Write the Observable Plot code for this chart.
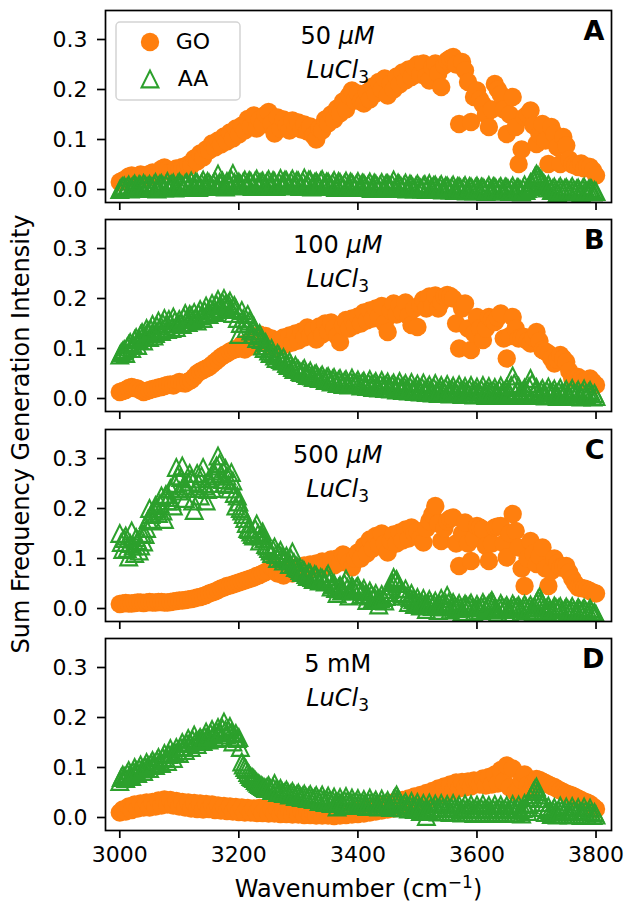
<!DOCTYPE html>
<html><head><meta charset="utf-8">
<script src="https://cdn.jsdelivr.net/npm/d3@7"></script>
<script src="https://cdn.jsdelivr.net/npm/@observablehq/plot@0.6"></script>
<style>
body{margin:0;background:#fff;}
#chart{position:relative;width:626px;height:909px;font-family:"DejaVu Sans",sans-serif;overflow:hidden;}
#chart svg{position:absolute;left:0;overflow:visible;}
#ylabel{position:absolute;left:21px;top:434px;transform:translate(-50%,-50%) rotate(-90deg);font-size:24px;line-height:1;white-space:nowrap;color:#000;}
</style></head><body>
<div id="chart"><div id="ylabel">Sum Frequency Generation Intensity</div></div>
<script>
const panelLetters = ["A", "B", "C", "D"];
const concLabels = ["50 μM", "100 μM", "500 μM", "5 mM"];
const saltLabel = "LuCl3";
const seriesNames = ["GO", "AA"];
const xTitle = "Wavenumber (cm−1)";
const xTicks = [3000, 3200, 3400, 3600, 3800];
const yTicks = [0.0, 0.1, 0.2, 0.3];

const wavenumber = [3000,3005,3010,3015,3020,3025,3030,3035,3040,3045,
3050,3055,3060,3065,3070,3075,3080,3085,3090,3095,
3100,3105,3110,3115,3120,3125,3130,3135,3140,3145,
3150,3155,3160,3165,3170,3175,3180,3185,3190,3195,
3200,3205,3210,3215,3220,3225,3230,3235,3240,3245,
3250,3255,3260,3265,3270,3275,3280,3285,3290,3295,
3300,3305,3310,3315,3320,3325,3330,3335,3340,3345,
3350,3355,3360,3365,3370,3375,3380,3385,3390,3395,
3400,3405,3410,3415,3420,3425,3430,3435,3440,3445,
3450,3455,3460,3465,3470,3475,3480,3485,3490,3495,
3500,3505,3510,3515,3520,3525,3530,3535,3540,3545,
3550,3555,3560,3565,3570,3575,3580,3585,3590,3595,
3600,3605,3610,3615,3620,3625,3630,3635,3640,3645,
3650,3655,3660,3665,3670,3675,3680,3685,3690,3695,
3700,3705,3710,3715,3720,3725,3730,3735,3740,3745,
3750,3755,3760,3765,3770,3775,3780,3785,3790,3795,
3800];
// AA was also recorded between the main grid points
const wavenumberMid = [3002.5,3007.5,3012.5,3017.5,3022.5,3027.5,3032.5,3037.5,3042.5,3047.5,
3052.5,3057.5,3062.5,3067.5,3072.5,3077.5,3082.5,3087.5,3092.5,3097.5,
3102.5,3107.5,3112.5,3117.5,3122.5,3127.5,3132.5,3137.5,3142.5,3147.5,
3152.5,3157.5,3162.5,3167.5,3172.5,3177.5,3182.5,3187.5,3192.5,3197.5,
3202.5,3207.5,3212.5,3217.5,3222.5,3227.5,3232.5,3237.5,3242.5,3247.5,
3252.5,3257.5,3262.5,3267.5,3272.5,3277.5,3282.5,3287.5,3292.5,3297.5,
3302.5,3307.5,3312.5,3317.5,3322.5,3327.5,3332.5,3337.5,3342.5,3347.5,
3352.5,3357.5,3362.5,3367.5,3372.5,3377.5,3382.5,3387.5,3392.5,3397.5,
3402.5,3407.5,3412.5,3417.5,3422.5,3427.5,3432.5,3437.5,3442.5,3447.5,
3452.5,3457.5,3462.5,3467.5,3472.5,3477.5,3482.5,3487.5,3492.5,3497.5,
3502.5,3507.5,3512.5,3517.5,3522.5,3527.5,3532.5,3537.5,3542.5,3547.5,
3552.5,3557.5,3562.5,3567.5,3572.5,3577.5,3582.5,3587.5,3592.5,3597.5,
3602.5,3607.5,3612.5,3617.5,3622.5,3627.5,3632.5,3637.5,3642.5,3647.5,
3652.5,3657.5,3662.5,3667.5,3672.5,3677.5,3682.5,3687.5,3692.5,3697.5,
3702.5,3707.5,3712.5,3717.5,3722.5,3727.5,3732.5,3737.5,3742.5,3747.5,
3752.5,3757.5,3762.5,3767.5,3772.5,3777.5,3782.5,3787.5,3792.5,3797.5];

const goA = [0.015,0.018,0.021,0.026,0.028,0.023,0.025,0.030,0.028,0.024,
0.031,0.034,0.026,0.030,0.041,0.044,0.040,0.035,0.036,0.042,
0.039,0.045,0.040,0.050,0.048,0.062,0.056,0.072,0.064,0.080,
0.078,0.092,0.084,0.098,0.090,0.106,0.096,0.114,0.102,0.122,
0.110,0.128,0.118,0.141,0.126,0.148,0.122,0.140,0.130,0.150,
0.155,0.132,0.112,0.144,0.122,0.140,0.128,0.118,0.138,0.124,
0.134,0.120,0.130,0.116,0.126,0.108,0.100,0.122,0.118,0.140,
0.132,0.150,0.140,0.162,0.152,0.176,0.160,0.188,0.198,0.178,
0.192,0.176,0.172,0.194,0.180,0.206,0.192,0.215,0.200,0.222,
0.188,0.212,0.200,0.226,0.210,0.234,0.218,0.240,0.225,0.244,
0.250,0.230,0.252,0.226,0.218,0.245,0.252,0.232,0.205,0.248,
0.258,0.262,0.265,0.250,0.131,0.255,0.238,0.215,0.135,0.185,
0.198,0.180,0.170,0.150,0.125,0.160,0.211,0.200,0.190,0.160,
0.111,0.150,0.185,0.125,0.051,0.080,0.145,0.150,0.158,0.128,
0.091,0.110,0.131,0.098,0.051,0.125,0.111,0.085,0.051,0.105,
0.088,0.060,0.050,0.048,0.045,0.052,0.042,0.046,0.045,0.038,
0.028];
const goB = [0.013,0.015,0.017,0.021,0.023,0.021,0.020,0.016,0.013,0.015,
0.017,0.019,0.020,0.022,0.023,0.025,0.027,0.028,0.026,0.030,
0.033,0.031,0.030,0.034,0.037,0.043,0.050,0.054,0.057,0.060,
0.063,0.068,0.073,0.078,0.083,0.087,0.090,0.094,0.097,0.099,
0.100,0.108,0.098,0.112,0.104,0.118,0.110,0.128,0.116,0.125,
0.108,0.120,0.100,0.114,0.104,0.122,0.108,0.126,0.112,0.130,
0.116,0.134,0.122,0.142,0.126,0.138,0.118,0.144,0.128,0.150,
0.134,0.152,0.140,0.125,0.113,0.146,0.157,0.140,0.160,0.146,
0.164,0.150,0.172,0.156,0.176,0.160,0.180,0.164,0.185,0.150,
0.133,0.176,0.190,0.168,0.186,0.172,0.192,0.165,0.147,0.180,
0.143,0.188,0.198,0.180,0.204,0.186,0.206,0.180,0.193,0.204,
0.207,0.205,0.200,0.150,0.100,0.180,0.190,0.140,0.097,0.130,
0.163,0.140,0.117,0.140,0.163,0.158,0.153,0.162,0.170,0.120,
0.080,0.125,0.163,0.140,0.120,0.122,0.123,0.115,0.110,0.122,
0.133,0.115,0.097,0.094,0.090,0.080,0.070,0.078,0.087,0.080,
0.073,0.055,0.040,0.042,0.043,0.038,0.035,0.037,0.040,0.033,
0.027];
const goC = [0.009,0.010,0.011,0.010,0.010,0.011,0.012,0.012,0.011,0.012,
0.013,0.012,0.012,0.013,0.013,0.012,0.012,0.013,0.014,0.015,
0.016,0.016,0.017,0.018,0.019,0.020,0.022,0.023,0.025,0.027,
0.030,0.032,0.034,0.037,0.040,0.042,0.045,0.046,0.048,0.050,
0.052,0.054,0.056,0.058,0.060,0.062,0.065,0.067,0.070,0.073,
0.076,0.082,0.079,0.070,0.074,0.066,0.072,0.078,0.070,0.082,
0.082,0.076,0.086,0.078,0.088,0.080,0.090,0.082,0.094,0.085,
0.090,0.098,0.086,0.100,0.092,0.108,0.104,0.092,0.082,0.100,
0.112,0.100,0.125,0.110,0.138,0.120,0.145,0.128,0.150,0.130,
0.112,0.135,0.148,0.130,0.152,0.136,0.158,0.140,0.162,0.150,
0.155,0.140,0.132,0.160,0.175,0.188,0.205,0.170,0.135,0.160,
0.175,0.180,0.182,0.130,0.085,0.150,0.172,0.130,0.095,0.140,
0.165,0.162,0.158,0.125,0.095,0.130,0.162,0.164,0.165,0.130,
0.102,0.150,0.189,0.155,0.122,0.080,0.045,0.100,0.135,0.110,
0.089,0.105,0.122,0.080,0.045,0.075,0.100,0.090,0.082,0.084,
0.085,0.072,0.060,0.050,0.042,0.041,0.040,0.038,0.035,0.032,
0.030];
const goD = [0.010,0.016,0.012,0.022,0.015,0.026,0.018,0.028,0.020,0.030,
0.020,0.031,0.022,0.034,0.024,0.036,0.026,0.035,0.024,0.033,
0.022,0.031,0.020,0.030,0.018,0.029,0.017,0.028,0.016,0.027,
0.017,0.026,0.015,0.024,0.014,0.023,0.013,0.022,0.012,0.021,
0.011,0.020,0.010,0.019,0.010,0.018,0.009,0.019,0.009,0.017,
0.008,0.017,0.008,0.016,0.007,0.015,0.007,0.014,0.006,0.014,
0.006,0.013,0.005,0.012,0.005,0.011,0.004,0.011,0.004,0.010,
0.004,0.010,0.003,0.010,0.004,0.011,0.005,0.012,0.006,0.014,
0.007,0.016,0.008,0.018,0.010,0.020,0.012,0.023,0.014,0.026,
0.016,0.029,0.018,0.032,0.021,0.035,0.024,0.038,0.027,0.042,
0.030,0.045,0.034,0.049,0.038,0.053,0.042,0.058,0.046,0.062,
0.050,0.066,0.054,0.070,0.058,0.071,0.060,0.072,0.062,0.074,
0.072,0.066,0.078,0.064,0.081,0.066,0.086,0.068,0.095,0.072,
0.104,0.060,0.098,0.050,0.055,0.075,0.086,0.065,0.052,0.070,
0.077,0.075,0.072,0.069,0.066,0.063,0.061,0.057,0.054,0.051,
0.048,0.046,0.044,0.041,0.038,0.035,0.032,0.030,0.027,0.022,
0.017];

const aaA = [0.000,0.006,0.002,0.009,0.004,0.011,0.003,0.008,0.012,0.005,
0.010,0.004,0.014,0.007,0.012,0.003,0.016,0.009,0.013,0.006,
0.015,0.008,0.012,0.005,0.017,0.010,0.014,0.007,0.019,0.011,
0.013,0.006,0.018,0.031,0.012,0.008,0.016,0.011,0.032,0.009,
0.015,0.007,0.019,0.012,0.016,0.009,0.021,0.013,0.017,0.010,
0.020,0.012,0.016,0.008,0.022,0.014,0.018,0.010,0.021,0.013,
0.017,0.009,0.023,0.012,0.019,0.010,0.016,0.008,0.020,0.011,
0.015,0.007,0.018,0.010,0.014,0.006,0.017,0.009,0.013,0.005,
0.016,0.008,0.012,0.004,0.015,0.007,0.011,0.003,0.014,0.006,
0.012,0.004,0.019,0.006,0.010,0.002,0.013,0.005,0.009,0.001,
0.011,0.003,0.008,0.000,0.012,0.004,0.009,0.001,0.010,0.002,
0.007,-0.001,0.009,0.001,0.006,-0.002,0.008,0.000,0.005,-0.003,
0.007,-0.002,0.004,-0.004,0.008,0.000,0.005,-0.003,0.006,-0.001,
0.004,-0.004,0.007,-0.002,0.003,-0.005,0.009,0.002,0.014,0.020,
0.031,0.024,0.016,0.008,0.010,-0.002,0.005,-0.006,0.006,-0.003,
0.004,-0.005,0.006,-0.004,0.003,-0.006,0.005,-0.003,0.002,-0.005,
-0.004];
const aaAmid = [0.004,0.007,0.005,0.001,0.008,0.006,0.010,0.002,0.009,0.007,
0.006,0.010,0.001,0.011,0.008,0.010,0.005,0.011,0.003,0.012,
0.011,0.004,0.014,0.009,0.006,0.015,0.004,0.013,0.008,0.016,
0.009,0.012,0.007,0.014,0.017,0.005,0.013,0.020,0.014,0.012,
0.011,0.015,0.008,0.018,0.006,0.017,0.009,0.015,0.006,0.016,
0.008,0.018,0.006,0.015,0.010,0.019,0.007,0.016,0.008,0.018,
0.006,0.016,0.007,0.019,0.005,0.014,0.012,0.017,0.006,0.015,
0.010,0.013,0.004,0.016,0.009,0.012,0.004,0.015,0.008,0.011,
0.004,0.013,0.007,0.010,0.002,0.013,0.006,0.009,0.002,0.012,
0.008,0.011,0.003,0.013,0.006,0.008,0.001,0.011,0.004,0.007,
0.006,0.001,0.010,0.005,0.002,0.008,0.004,0.006,-0.001,0.007,
0.003,0.005,-0.002,0.006,0.003,0.004,-0.003,0.006,0.001,0.004,
0.002,0.005,0.001,0.003,-0.001,0.006,0.001,0.003,-0.003,0.005,
0.001,0.002,-0.003,0.004,0.000,0.002,-0.002,0.006,0.009,0.026,
0.028,0.020,0.012,0.003,0.004,0.002,0.000,0.002,0.001,0.002,
0.000,0.001,0.000,0.001,-0.002,0.002,-0.001,0.000,0.001,-0.002];
const aaB = [0.087,0.095,0.090,0.108,0.100,0.118,0.106,0.128,0.115,0.140,
0.122,0.148,0.130,0.155,0.134,0.160,0.138,0.150,0.163,0.142,
0.158,0.148,0.170,0.152,0.165,0.172,0.155,0.178,0.160,0.185,
0.168,0.190,0.172,0.198,0.178,0.200,0.182,0.195,0.170,0.180,
0.128,0.176,0.150,0.168,0.135,0.145,0.120,0.130,0.105,0.112,
0.095,0.100,0.085,0.090,0.078,0.082,0.070,0.074,0.062,0.066,
0.058,0.052,0.060,0.046,0.055,0.042,0.050,0.040,0.047,0.036,
0.044,0.033,0.042,0.030,0.040,0.028,0.038,0.027,0.041,0.029,
0.037,0.025,0.035,0.024,0.038,0.022,0.034,0.021,0.036,0.020,
0.033,0.019,0.031,0.017,0.034,0.016,0.030,0.015,0.032,0.014,
0.029,0.013,0.031,0.012,0.027,0.011,0.030,0.010,0.026,0.012,
0.028,0.009,0.025,0.010,0.027,0.008,0.024,0.009,0.026,0.007,
0.023,0.008,0.026,0.006,0.024,0.009,0.022,0.007,0.025,0.006,
0.022,0.008,0.045,0.010,0.024,0.006,0.021,0.009,0.040,0.008,
0.022,0.006,0.020,0.005,0.023,0.007,0.019,0.004,0.021,0.006,
0.018,0.004,0.020,0.005,0.017,0.003,0.019,0.004,0.016,0.003,
0.004];
const aaBmid = [0.092,0.098,0.103,0.112,0.108,0.122,0.118,0.132,0.125,0.135,
0.138,0.125,0.145,0.140,0.150,0.145,0.158,0.140,0.155,0.150,
0.152,0.162,0.158,0.168,0.158,0.162,0.170,0.165,0.175,0.170,
0.180,0.175,0.188,0.185,0.192,0.188,0.190,0.178,0.186,0.160,
0.150,0.160,0.140,0.155,0.128,0.135,0.125,0.118,0.100,0.105,
0.090,0.092,0.080,0.086,0.075,0.076,0.066,0.068,0.058,0.060,
0.054,0.056,0.050,0.050,0.045,0.048,0.044,0.043,0.040,0.042,
0.038,0.039,0.035,0.037,0.032,0.035,0.031,0.034,0.033,0.032,
0.030,0.032,0.028,0.031,0.028,0.030,0.026,0.029,0.026,0.028,
0.025,0.027,0.022,0.026,0.021,0.025,0.020,0.024,0.018,0.022,
0.019,0.023,0.017,0.021,0.016,0.022,0.015,0.020,0.017,0.021,
0.015,0.019,0.016,0.020,0.014,0.018,0.015,0.019,0.013,0.017,
0.014,0.018,0.012,0.017,0.015,0.016,0.013,0.018,0.012,0.016,
0.013,0.026,0.030,0.016,0.012,0.015,0.013,0.024,0.030,0.015,
0.012,0.015,0.011,0.016,0.012,0.014,0.010,0.015,0.011,0.013,
0.010,0.014,0.011,0.012,0.009,0.013,0.008,0.012,0.009,0.010];
const aaC = [0.150,0.118,0.145,0.103,0.155,0.110,0.136,0.125,0.133,0.160,
0.200,0.175,0.206,0.190,0.225,0.178,0.215,0.240,0.205,0.282,
0.235,0.285,0.220,0.253,0.259,0.196,0.270,0.225,0.282,0.215,
0.260,0.240,0.265,0.305,0.270,0.250,0.265,0.239,0.255,0.205,
0.213,0.195,0.180,0.160,0.153,0.145,0.169,0.135,0.153,0.128,
0.120,0.110,0.123,0.100,0.116,0.095,0.105,0.088,0.113,0.082,
0.080,0.072,0.075,0.064,0.070,0.058,0.066,0.055,0.060,0.053,
0.069,0.043,0.050,0.030,0.046,0.038,0.059,0.025,0.045,0.035,
0.045,0.028,0.040,0.016,0.035,0.020,0.030,0.007,0.028,0.015,
0.032,0.045,0.062,0.058,0.040,0.025,0.039,0.012,0.030,0.008,
0.022,0.005,0.020,-0.002,0.018,0.004,0.015,-0.004,0.020,0.003,
0.026,-0.003,0.012,0.000,0.010,-0.006,0.009,0.002,0.011,-0.008,
0.008,-0.004,0.012,0.000,0.009,0.016,0.002,-0.007,0.010,-0.002,
0.006,-0.008,0.009,0.000,0.006,-0.005,0.008,-0.003,0.007,-0.006,
0.012,0.023,0.010,-0.004,0.006,-0.008,0.005,-0.002,0.004,-0.009,
0.003,-0.006,0.004,-0.010,0.002,-0.007,0.001,-0.009,0.000,-0.010,
-0.012];
const aaCmid = [0.132,0.140,0.120,0.130,0.125,0.142,0.115,0.150,0.148,0.178,
0.188,0.195,0.200,0.210,0.195,0.228,0.222,0.215,0.250,0.265,
0.262,0.245,0.240,0.270,0.215,0.240,0.250,0.265,0.245,0.238,
0.250,0.275,0.285,0.290,0.258,0.280,0.248,0.272,0.230,0.225,
0.200,0.188,0.170,0.158,0.148,0.160,0.150,0.145,0.140,0.125,
0.115,0.118,0.108,0.110,0.104,0.100,0.096,0.100,0.092,0.085,
0.076,0.078,0.068,0.072,0.062,0.068,0.060,0.062,0.056,0.064,
0.055,0.048,0.040,0.042,0.035,0.050,0.042,0.036,0.040,0.042,
0.036,0.034,0.028,0.025,0.028,0.024,0.018,0.020,0.022,0.024,
0.038,0.052,0.055,0.050,0.032,0.030,0.025,0.022,0.018,0.015,
0.014,0.012,0.009,0.010,0.011,0.009,0.006,0.008,0.012,0.011,
0.012,0.005,0.006,0.004,0.002,0.004,0.006,0.007,0.002,0.001,
0.002,0.004,0.006,0.005,0.012,0.010,-0.002,0.003,0.004,0.002,
-0.001,0.001,0.004,0.003,0.000,0.002,0.003,0.002,0.001,0.002,
0.018,0.016,0.003,0.001,-0.001,-0.002,0.002,0.001,-0.003,-0.002,
-0.001,-0.002,-0.003,-0.004,-0.002,-0.003,-0.004,-0.005,-0.005,-0.008];
const aaD = [0.072,0.085,0.078,0.094,0.082,0.100,0.088,0.105,0.092,0.110,
0.098,0.114,0.104,0.120,0.108,0.128,0.112,0.138,0.118,0.140,
0.128,0.150,0.134,0.158,0.140,0.165,0.146,0.160,0.152,0.171,
0.155,0.176,0.158,0.180,0.160,0.191,0.165,0.182,0.151,0.168,
0.160,0.111,0.100,0.090,0.082,0.078,0.071,0.066,0.062,0.058,
0.064,0.054,0.068,0.050,0.058,0.048,0.055,0.045,0.052,0.042,
0.049,0.040,0.047,0.038,0.046,0.036,0.044,0.032,0.045,0.030,
0.043,0.028,0.041,0.021,0.040,0.024,0.042,0.026,0.039,0.025,
0.038,0.024,0.036,0.022,0.039,0.023,0.035,0.021,0.037,0.022,
0.034,0.020,0.036,0.045,0.033,0.019,0.031,0.017,0.032,0.016,
0.030,0.012,0.028,0.002,0.029,0.013,0.027,0.011,0.028,0.012,
0.026,0.010,0.028,0.011,0.025,0.009,0.027,0.010,0.026,0.008,
0.025,0.010,0.027,0.009,0.024,0.008,0.026,0.010,0.025,0.009,
0.024,0.008,0.026,0.009,0.025,0.007,0.028,0.012,0.040,0.052,
0.061,0.045,0.030,0.010,0.022,0.006,0.020,0.005,0.023,0.007,
0.021,0.005,0.022,0.006,0.020,0.004,0.021,0.005,0.019,0.004,
0.005];
const aaDmid = [0.080,0.082,0.088,0.086,0.092,0.094,0.098,0.097,0.102,0.104,
0.108,0.109,0.114,0.113,0.120,0.118,0.126,0.128,0.130,0.133,
0.140,0.142,0.148,0.150,0.155,0.152,0.155,0.156,0.162,0.163,
0.168,0.166,0.172,0.170,0.178,0.175,0.175,0.170,0.160,0.158,
0.140,0.105,0.096,0.086,0.080,0.074,0.068,0.064,0.060,0.061,
0.058,0.060,0.056,0.054,0.052,0.051,0.050,0.048,0.047,0.046,
0.044,0.043,0.042,0.042,0.040,0.040,0.038,0.039,0.036,0.037,
0.035,0.035,0.030,0.032,0.031,0.034,0.033,0.032,0.031,0.032,
0.030,0.030,0.029,0.031,0.030,0.030,0.028,0.029,0.028,0.029,
0.026,0.029,0.040,0.038,0.025,0.026,0.023,0.024,0.022,0.023,
0.020,0.020,0.014,0.016,0.020,0.019,0.018,0.019,0.019,0.019,
0.018,0.019,0.018,0.019,0.016,0.018,0.017,0.018,0.016,0.017,
0.017,0.018,0.016,0.017,0.015,0.017,0.016,0.018,0.016,0.017,
0.015,0.017,0.016,0.018,0.015,0.018,0.020,0.026,0.046,0.057,
0.052,0.038,0.020,0.016,0.013,0.014,0.012,0.014,0.015,0.014,
0.012,0.013,0.014,0.013,0.011,0.012,0.013,0.012,0.011,0.010];

const goSeries = [goA, goB, goC, goD];
const aaSeries = [aaA, aaB, aaC, aaD];
const aaMidSeries = [aaAmid, aaBmid, aaCmid, aaDmid];

const ORANGE = "#ff7f0e", GREEN = "#2ca02c";
const triangleUp = {draw(ctx, size) {
  const r = Math.sqrt(size / Math.PI);
  ctx.moveTo(0, -r); ctx.lineTo(r, r); ctx.lineTo(-r, r); ctx.closePath();
}};

const chart = document.getElementById("chart");
const panelTops = [10, 219.3, 428.7, 638];
const PH = 192, MT = 5;

function styleTexts(svg) {
  d3.select(svg).selectAll("text").each(function() {
    const t = this.textContent;
    const s = d3.select(this);
    if (t === saltLabel) {
      s.text(null);
      s.append("tspan").attr("font-style", "italic").text("LuCl");
      s.append("tspan").attr("font-size", 17).attr("dy", 5).text("3");
    } else if (/μM$/.test(t)) {
      s.text(null);
      s.append("tspan").text(t.replace("μM", ""));
      s.append("tspan").attr("font-style", "italic").text("μM");
    } else if (t === xTitle) {
      s.text(null);
      s.append("tspan").text("Wavenumber (cm");
      s.append("tspan").attr("font-size", 17).attr("dy", -9).text("−1");
      s.append("tspan").attr("dy", 9).text(")");
    }
  });
}

panelLetters.forEach((letter, i) => {
  const last = i === 3;
  const MB = last ? 79 : 15;
  const go = wavenumber.map((x, j) => ({x, y: goSeries[i][j]}));
  const aa = wavenumber.map((x, j) => ({x, y: aaSeries[i][j]}))
    .concat(wavenumberMid.map((x, j) => ({x, y: aaMidSeries[i][j]})));
  const marks = [
    Plot.dot(go, {x: "x", y: "y", r: 9.2, fill: ORANGE, stroke: null, clip: true}),
    Plot.dot(aa, {x: "x", y: "y", r: 8.4, symbol: triangleUp, fill: "none", stroke: GREEN, strokeWidth: 2.1, clip: true}),
    Plot.frame({stroke: "#000", strokeWidth: 1.7}),
    Plot.axisY({ticks: yTicks, tickFormat: d3.format(".1f"), tickSize: 8, tickPadding: 10, strokeWidth: 1.7, label: null}),
    Plot.axisX({ticks: xTicks, tickFormat: last ? d3.format("d") : () => "", tickSize: 8, tickPadding: 8, strokeWidth: 1.7, label: null}),
    Plot.text([concLabels[i]], {x: () => 3366, frameAnchor: "top", lineAnchor: "bottom", dy: 33, fontSize: 24, text: d => d}),
    Plot.text([saltLabel], {x: () => 3366, frameAnchor: "top", lineAnchor: "bottom", dy: 67, fontSize: 24, text: d => d}),
    Plot.text([letter], {frameAnchor: "top-right", textAnchor: "end", lineAnchor: "bottom", dx: -7, dy: 29, fontSize: 27, fontWeight: "bold", text: d => d})
  ];
  if (last) marks.push(Plot.text([xTitle], {frameAnchor: "bottom", lineAnchor: "bottom", dy: 66, fontSize: 24, text: d => d}));
  const svg = Plot.plot({
    width: 626, height: MT + PH + MB,
    marginLeft: 105, marginRight: 15, marginTop: MT, marginBottom: MB,
    style: {fontFamily: "DejaVu Sans, sans-serif", fontSize: "22px", color: "#000", background: "transparent", overflow: "visible"},
    x: {domain: [2976, 3826]},
    y: {domain: [-0.026, 0.358]},
    marks
  });
  styleTexts(svg);
  if (i === 0) {
    const g = d3.select(svg).append("g");
    g.append("rect").attr("x", 116).attr("y", 22 - 5).attr("width", 124).attr("height", 78)
      .attr("rx", 4).attr("fill", "white").attr("fill-opacity", 0.8).attr("stroke", "#d4d4d4").attr("stroke-width", 1.5);
    g.append("circle").attr("cx", 150).attr("cy", 42 - 5).attr("r", 9.2).attr("fill", ORANGE);
    g.append("path").attr("d", "M150,65.6L158.4,82.4L141.6,82.4Z").attr("fill", "none").attr("stroke", GREEN).attr("stroke-width", 2.1);
    g.append("text").attr("x", 193).attr("y", 44).attr("font-size", 22).text(seriesNames[0]);
    g.append("text").attr("x", 193).attr("y", 81).attr("font-size", 22).text(seriesNames[1]);
  }
  svg.style.top = (panelTops[i] - MT) + "px";
  chart.appendChild(svg);
});
</script>
</body></html>
